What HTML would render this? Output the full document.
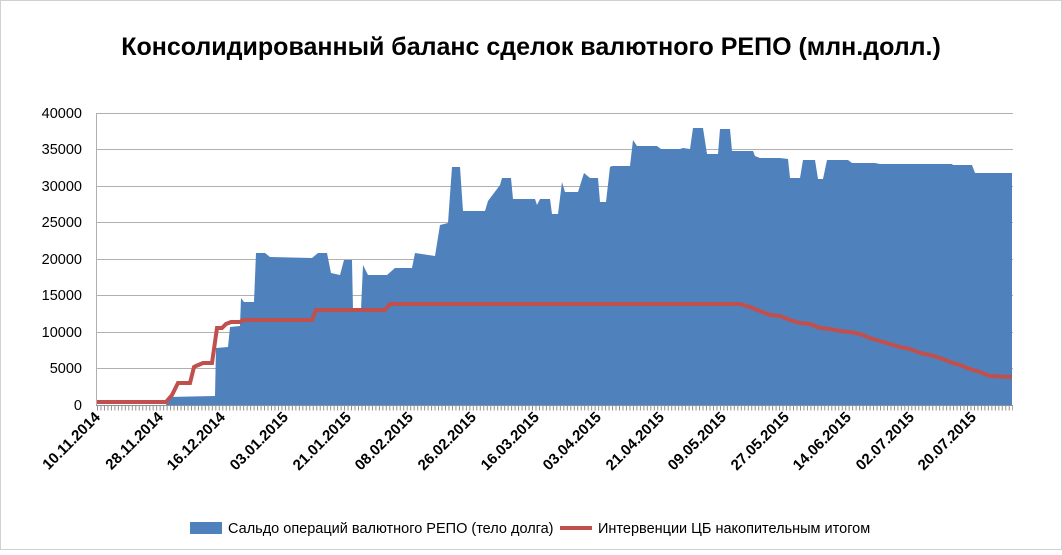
<!DOCTYPE html>
<html><head><meta charset="utf-8"><style>
body{margin:0;background:#fff;}
svg text{font-family:"Liberation Sans",sans-serif;}
</style></head><body>
<svg width="1062" height="550" xmlns="http://www.w3.org/2000/svg">
<rect width="1062" height="550" fill="#fff"/>
<rect x="0.5" y="0.5" width="1061" height="549" fill="none" stroke="#d0d0d0"/>
<text x="531" y="55" text-anchor="middle" font-size="25" font-weight="bold">Консолидированный баланс сделок валютного РЕПО (млн.долл.)</text>
<g stroke="#b0b0b0" stroke-width="1">
<line x1="96" x2="1013" y1="113.5" y2="113.5"/>
<line x1="96" x2="1013" y1="149.5" y2="149.5"/>
<line x1="96" x2="1013" y1="186.5" y2="186.5"/>
<line x1="96" x2="1013" y1="222.5" y2="222.5"/>
<line x1="96" x2="1013" y1="259.5" y2="259.5"/>
<line x1="96" x2="1013" y1="295.5" y2="295.5"/>
<line x1="96" x2="1013" y1="332.5" y2="332.5"/>
<line x1="96" x2="1013" y1="368.5" y2="368.5"/>
<line x1="96.5" x2="96.5" y1="113" y2="405"/>
</g>
<g font-size="14.5" text-anchor="end">
<text x="82" y="118">40000</text><text x="82" y="154">35000</text><text x="82" y="191">30000</text>
<text x="82" y="227">25000</text><text x="82" y="264">20000</text><text x="82" y="300">15000</text>
<text x="82" y="337">10000</text><text x="82" y="373">5000</text><text x="82" y="410">0</text>
</g>
<path fill="#4f81bd" d="M97,405 L166,405 L168,397 L215,396 L216,348 L228,347 L230,327 L240,326 L241,298 L244,302 L254,302 L256,253 L265,253 L270,257 L312,258 L318,253 L327,253 L331,273 L340,275 L344,260 L352,260 L353,310 L361,310 L363,265 L368,275 L387,275 L395,268 L412,268 L415,253 L435,256 L440,225 L448,223 L452,167 L460,167 L463,211 L485,211 L488,201 L500,185 L502,178 L511,178 L513,199 L535,199 L537,205 L540,199 L550,199 L552,214 L558,214 L562,182 L565,192 L578,192 L584,173 L590,178 L598,178 L600,202 L606,202 L610,167 L612,166 L630,166 L633,140 L637,146 L657,146 L661,149 L680,149 L683,148 L690,149 L693,128 L703,128 L707,154 L718,154 L720,129 L730,129 L732,151 L753,151 L755,156 L760,158 L780,158 L788,159 L790,178 L800,178 L803,160 L815,160 L818,179 L823,179 L827,160 L848,160 L852,163 L875,163 L880,164 L952,164 L953,165 L972,165 L975,173 L1012,173 L1012,405 Z"/>
<polyline fill="none" stroke="#c0504d" stroke-width="4" points="97,402 166,402 172,395 178,383 190,383 194,367 196,366 203,363 212,363 217,328 222,328 226,324 231,322 240,322 243,320 312,320 316,310 385,310 390,304 740,304 750,307 760,311 770,315 780,316 790,320 800,323 810,324 820,328 830,329 840,331 850,332 860,334 870,338 880,341 890,344 900,347 910,349 920,353 930,355 940,358 950,362 960,365 970,369 980,372 990,376 1012,377"/>
<line x1="96" x2="1013" y1="405.5" y2="405.5" stroke="#909090"/>
<line x1="97" x2="1013" y1="408" y2="408" stroke="#909090" stroke-width="5" stroke-dasharray="1 2.48"/>
<g font-size="15" font-weight="bold" text-anchor="end">
<text transform="translate(101,418) rotate(-45)">10.11.2014</text>
<text transform="translate(164,418) rotate(-45)">28.11.2014</text>
<text transform="translate(226,418) rotate(-45)">16.12.2014</text>
<text transform="translate(289,418) rotate(-45)">03.01.2015</text>
<text transform="translate(352,418) rotate(-45)">21.01.2015</text>
<text transform="translate(414,418) rotate(-45)">08.02.2015</text>
<text transform="translate(477,418) rotate(-45)">26.02.2015</text>
<text transform="translate(540,418) rotate(-45)">16.03.2015</text>
<text transform="translate(602,418) rotate(-45)">03.04.2015</text>
<text transform="translate(665,418) rotate(-45)">21.04.2015</text>
<text transform="translate(727,418) rotate(-45)">09.05.2015</text>
<text transform="translate(790,418) rotate(-45)">27.05.2015</text>
<text transform="translate(852,418) rotate(-45)">14.06.2015</text>
<text transform="translate(915,418) rotate(-45)">02.07.2015</text>
<text transform="translate(977,418) rotate(-45)">20.07.2015</text>
</g>
<rect x="190" y="522" width="32" height="12" fill="#4f81bd"/>
<text x="228" y="533" font-size="14.5">Сальдо операций валютного РЕПО (тело долга)</text>
<line x1="560" x2="592" y1="528" y2="528" stroke="#c0504d" stroke-width="4"/>
<text x="598" y="533" font-size="14.5">Интервенции ЦБ накопительным итогом</text>
</svg>
</body></html>
